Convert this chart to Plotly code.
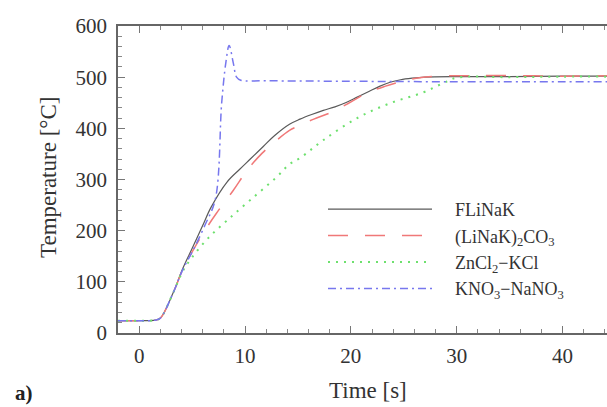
import plotly.graph_objects as go

# ---- data ----
t_flinak = [-2, 0, 1.5, 2.0, 3.2, 4.1, 5, 6, 6.8, 8.3, 9.5, 10.5, 11.7, 12.8, 14.2, 15.2, 16.3, 17.4, 18.5, 19.5, 20.6, 21.7, 22.7, 23.7, 24.7, 25.8, 27, 30, 35, 40, 45]
T_flinak = [24, 24, 25, 29, 78, 125, 165, 210, 246, 295, 320, 340, 364, 386, 408, 418, 427, 435, 442, 450, 461, 472, 482, 490, 495, 498, 500, 501, 501, 502, 502]

t_linak = [-2, 0, 1.5, 2.0, 3.2, 4.1, 5.1, 6.2, 7.3, 8.9, 10.2, 11.6, 12.9, 14.2, 15.2, 16.5, 18, 19.7, 21.5, 23.2, 24.9, 26.5, 28.4, 32, 36, 40, 45]
T_linak = [24, 24, 25, 29, 78, 123, 162, 200, 234, 279, 318, 351, 375, 396, 406, 418, 430, 448, 469, 482, 492, 499, 502, 503, 503, 502, 503]

t_zncl = [-2, 0, 1.5, 2.0, 3.2, 4.1, 5.0, 6.5, 8.3, 10.5, 13, 14.2, 15.2, 17.4, 20.6, 23.7, 26.8, 28.7, 30, 35, 40, 45]
T_zncl = [24, 24, 25, 29, 78, 120, 148, 185, 220, 260, 305, 330, 342, 377, 420, 449, 470, 488, 499, 500, 501, 501]

t_kno = [-2, 0, 1.5, 2.0, 3.2, 4.1, 5.1, 6.2, 7.2, 7.8, 8.2, 8.5, 8.9, 9.2, 9.6, 12, 20, 30, 40, 45]
T_kno = [24, 24, 25, 29, 78, 123, 162, 210, 262, 451, 530, 562, 527, 500, 494, 493, 492, 491, 491, 491]

names = ["FLiNaK", "(LiNaK)<sub>2</sub>CO<sub>3</sub>", "ZnCl<sub>2</sub>\u2212KCl", "KNO<sub>3</sub>\u2212NaNO<sub>3</sub>"]

x_range = [-2, 44.2]
y_range = [0, 600]
x_ticks = [0, 10, 20, 30, 40]
y_ticks = [0, 100, 200, 300, 400, 500, 600]

FONT = "Liberation Serif"
TXT = "#333333"

fig = go.Figure()
series = [
    (t_flinak, T_flinak, names[0], dict(color="#5a5a5a", width=1.2, dash="solid")),
    (t_linak, T_linak, names[1], dict(color="#f07878", width=1.5, dash="20px,17px")),
    (t_zncl, T_zncl, names[2], dict(color="#6ee06e", width=2, dash="2px,6px")),
    (t_kno, T_kno, names[3], dict(color="#7777ee", width=1.5, dash="8px,4px,2px,4px")),
]
for x, y, n, ln in series:
    fig.add_trace(go.Scatter(x=x, y=y, mode="lines", name="\u2003" + n, line=ln, line_shape="spline"))

axis_common = dict(
    showgrid=False, zeroline=False, showline=True, linecolor="#666666", linewidth=1.5,
    ticks="inside", ticklen=7, tickcolor="#777777", tickwidth=1,
    tickfont=dict(family=FONT, size=21, color=TXT),
)
fig.update_xaxes(range=x_range, tickvals=x_ticks, mirror="ticks",
                 minor=dict(ticks="inside", dtick=2, ticklen=4, tickcolor="#888888"),
                 ticklabelstandoff=3, **axis_common)
fig.update_yaxes(range=y_range, tickvals=y_ticks, mirror=False,
                 minor=dict(ticks="inside", dtick=20, ticklen=4, tickcolor="#888888"),
                 ticklabelstandoff=5, **axis_common)

W, H = 607, 407
l, r, t, b = 118, 0, 26, 74
pw, ph = W - l - r, H - t - b
def px(xp):
    return (xp - l) / pw
def py(yp):
    return (H - b - yp) / ph

fig.update_layout(
    width=W, height=H,
    margin=dict(l=l, r=r, t=t, b=b),
    plot_bgcolor="white", paper_bgcolor="white",
    font=dict(family=FONT, size=18, color=TXT),
    showlegend=True,
    legend=dict(x=px(323), y=py(191), xanchor="left", yanchor="top",
                bgcolor="rgba(0,0,0,0)", itemwidth=104,
                font=dict(family=FONT, size=18, color=TXT),
                tracegroupgap=0),
    annotations=[
        dict(text="Temperature [°C]", x=px(48), y=py(178), xref="paper", yref="paper",
             xanchor="center", yanchor="middle",
             showarrow=False, textangle=-90, font=dict(family=FONT, size=23, color=TXT)),
        dict(text="Time [s]", x=px(368), y=py(390), xref="paper", yref="paper",
             xanchor="center", yanchor="middle", showarrow=False,
             font=dict(family=FONT, size=23, color=TXT)),
        dict(text="<b>a)</b>", x=px(24), y=py(393), xref="paper", yref="paper",
             xanchor="center", yanchor="middle", showarrow=False,
             font=dict(family=FONT, size=21, color="#222222")),
    ],
)

fig.write_html("out.html")
